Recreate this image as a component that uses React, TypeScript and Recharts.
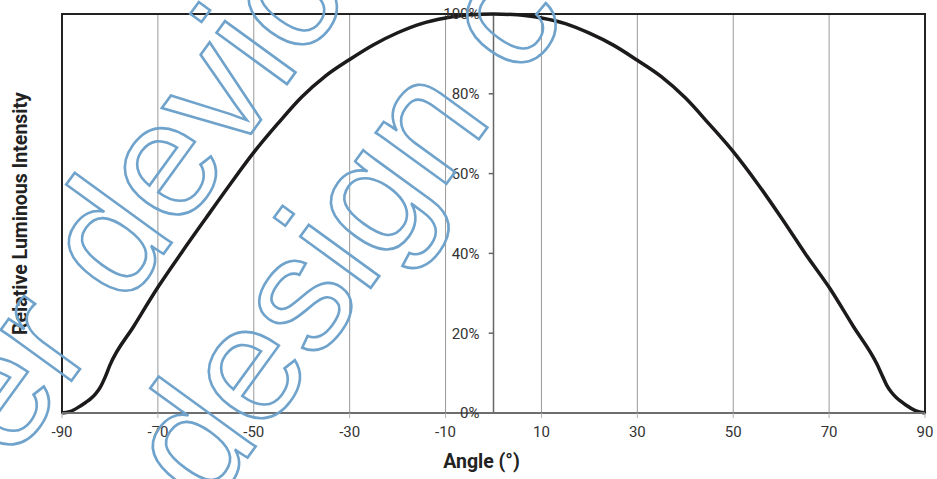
import React from "react";
import {
  LineChart,
  Line,
  XAxis,
  YAxis,
  CartesianGrid,
  ReferenceLine,
  ReferenceDot,
  ReferenceArea,
} from "recharts";

// angle (deg) vs relative luminous intensity (%)
const angles = [
  -90, -88, -86, -85, -84, -83, -82, -81, -80, -75, -70, -65, -60, -55, -50, -45, -40, -35, -30,
  -25, -20, -15, -10, -5, 0, 5, 10, 15, 20, 25, 30, 35, 40, 45, 50, 55, 60, 65, 70, 75, 80, 81,
  82, 83, 84, 85, 86, 88, 90,
];
const intensity = [
  0, 0.5, 1.9, 2.7, 3.6, 4.8, 6.5, 9.0, 12.0, 21.8, 31.5, 40.3, 48.8, 57.2, 65.3, 72.5, 79.2, 84.5,
  88.6, 92.3, 95.3, 97.6, 99.0, 99.8, 100, 99.8, 99.0, 97.6, 95.2, 92.2, 88.4, 84.3, 79.0, 72.4,
  65.5, 57.6, 49.0, 40.0, 31.5, 21.8, 12.2, 9.6, 7.0, 5.2, 3.9, 2.9, 2.0, 0.6, 0,
];
const xTicks = [-90, -70, -50, -30, -10, 10, 30, 50, 70, 90];
const yTicks = [0, 20, 40, 60, 80, 100];

const data = angles.map((a, i) => ({ angle: a, value: intensity[i] }));

const FONT = "Roboto, 'Noto Sans', sans-serif";

// outlined watermark lying over the chart
function Watermark() {
  const common = {
    fill: "none",
    stroke: "#6fa3cc",
    strokeWidth: 2.6,
    fontSize: 165,
    fontFamily: "'Liberation Sans', Arial, sans-serif",
  };
  return (
    <svg
      width={937}
      height={479}
      style={{ position: "absolute", left: 0, top: 0, pointerEvents: "none" }}
    >
      <text x={-167} y={709} transform="rotate(-54 -167 709)" {...common}>
        power devices
      </text>
      <text x={208} y={512} transform="rotate(-54 208 512)" {...common}>
        design center
      </text>
    </svg>
  );
}

export default function App() {
  return (
    <div style={{ position: "absolute", left: 0, top: 0, width: 937, height: 479, background: "#fff" }}>
      <LineChart width={937} height={479} data={data} margin={{ top: 14, right: 12, bottom: 0, left: 0 }}>
        <CartesianGrid vertical={false} stroke="#dcdcdc" strokeWidth={1.5} />
        <CartesianGrid horizontal={false} stroke="#9a9a9a" strokeWidth={1} />
        <XAxis
          dataKey="angle"
          type="number"
          domain={[-90, 90]}
          ticks={xTicks}
          interval={0}
          height={66}
          tickSize={5}
          tickMargin={8}
          axisLine={{ stroke: "#6e6e6e", strokeWidth: 2 }}
          tickLine={{ stroke: "#b0b0b0" }}
          tick={{ fontSize: 15, fill: "#333", fontFamily: FONT }}
          label={{
            value: "Angle (°)",
            position: "insideBottom",
            offset: 11,
            dx: -12,
            style: { fontSize: 19.5, fontWeight: 700, fill: "#222", fontFamily: FONT },
          }}
        />
        <YAxis
          type="number"
          domain={[0, 100]}
          ticks={yTicks}
          width={62}
          tick={false}
          tickLine={false}
          axisLine={false}
          label={{
            value: "Relative Luminous Intensity",
            angle: -90,
            position: "insideLeft",
            offset: 20,
            style: { textAnchor: "middle", fontSize: 19.5, fontWeight: 700, fill: "#222", fontFamily: FONT },
          }}
        />
        <ReferenceArea
          x1={-90}
          x2={90}
          y1={0}
          y2={100}
          fill="none"
          stroke="#222"
          strokeWidth={2}
          ifOverflow="visible"
        />
        <ReferenceLine x={0} stroke="#666" strokeWidth={1.5} />
        {yTicks.map((v) => (
          <ReferenceLine
            key={"t" + v}
            segment={[
              { x: -1, y: v },
              { x: 0, y: v },
            ]}
            stroke="#666"
            strokeWidth={1.5}
            ifOverflow="visible"
          />
        ))}
        {yTicks.map((v) => (
          <ReferenceDot
            key={"l" + v}
            x={0}
            y={v}
            r={0}
            fill="none"
            stroke="none"
            ifOverflow="visible"
            label={{
              value: `${v}%`,
              position: "left",
              offset: 14,
              style: { fontSize: 15, fill: "#333", fontFamily: FONT },
            }}
          />
        ))}
        <Line
          type="monotone"
          dataKey="value"
          stroke="#1c1a1a"
          strokeWidth={3.5}
          dot={false}
          isAnimationActive={false}
        />
      </LineChart>
      <Watermark />
    </div>
  );
}
